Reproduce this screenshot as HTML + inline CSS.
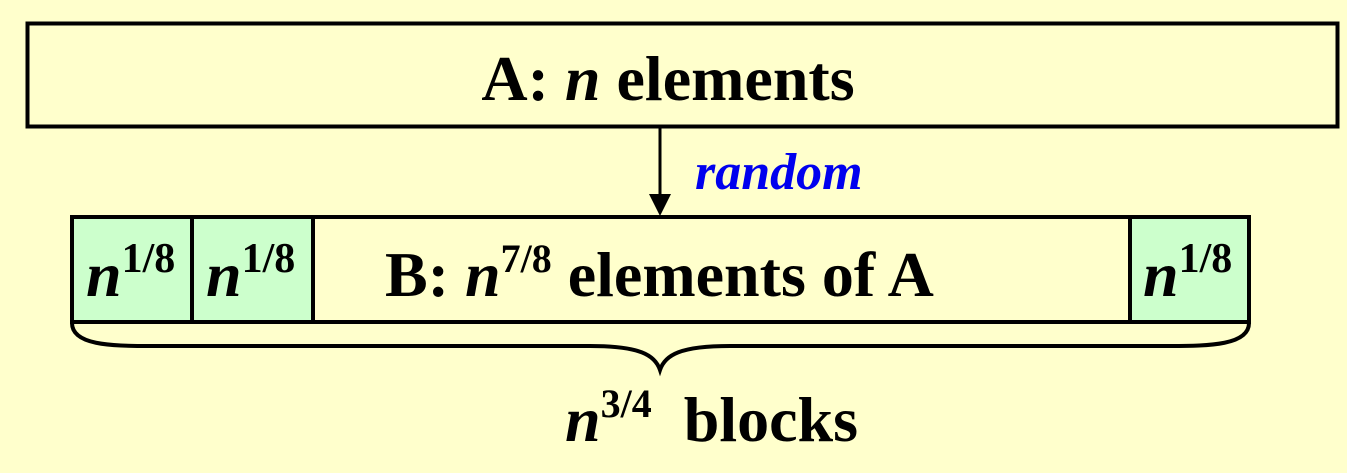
<!DOCTYPE html>
<html><head><style>
html,body{margin:0;padding:0;background:#FFFFCC;}
svg{display:block;}
text{font-family:"Liberation Serif",serif;font-weight:bold;}
</style></head><body>
<svg width="1347" height="473" viewBox="0 0 1347 473" xmlns="http://www.w3.org/2000/svg">
<rect x="0" y="0" width="1347" height="473" fill="#FFFFCC"/>
<rect x="27.5" y="23.5" width="1310" height="103" fill="#FFFFCC" stroke="#000" stroke-width="4"/>
<text x="668" y="100" font-size="64" text-anchor="middle">A: <tspan font-style="italic">n</tspan> elements</text>
<line x1="660" y1="127" x2="660" y2="196" stroke="#000" stroke-width="3"/>
<polygon points="649,194 671,194 660,216" fill="#000"/>
<text x="695" y="189" font-size="52" font-style="italic" fill="#0000EE">random</text>
<rect x="72" y="217" width="1177" height="105" fill="#FFFFCC" stroke="#000" stroke-width="4"/>
<rect x="72" y="217" width="120" height="105" fill="#CCFFCC" stroke="#000" stroke-width="4"/>
<rect x="192" y="217" width="121" height="105" fill="#CCFFCC" stroke="#000" stroke-width="4"/>
<rect x="1130" y="217" width="119" height="105" fill="#CCFFCC" stroke="#000" stroke-width="4"/>
<text x="86" y="296" font-size="64"><tspan font-style="italic">n</tspan><tspan font-size="42" dy="-24">1/8</tspan></text>
<text x="206" y="296" font-size="64"><tspan font-style="italic">n</tspan><tspan font-size="42" dy="-24">1/8</tspan></text>
<text x="1143" y="296" font-size="64"><tspan font-style="italic">n</tspan><tspan font-size="42" dy="-24">1/8</tspan></text>
<text x="385" y="296" font-size="64">B: <tspan font-style="italic">n</tspan><tspan font-size="40" dy="-24">7/8</tspan><tspan dy="24"> elements of A</tspan></text>
<path d="M72,323 C72,345 110,346 150,346 L590,346 C640,346 655,355 660,370 C665,355 680,346 730,346 L1170,346 C1210,346 1249,345 1249,323" fill="none" stroke="#000" stroke-width="4"/>
<text x="565" y="441" font-size="64" xml:space="preserve"><tspan font-style="italic">n</tspan><tspan font-size="40" dy="-24">3/4</tspan><tspan dy="24">  blocks</tspan></text>
</svg>
</body></html>
